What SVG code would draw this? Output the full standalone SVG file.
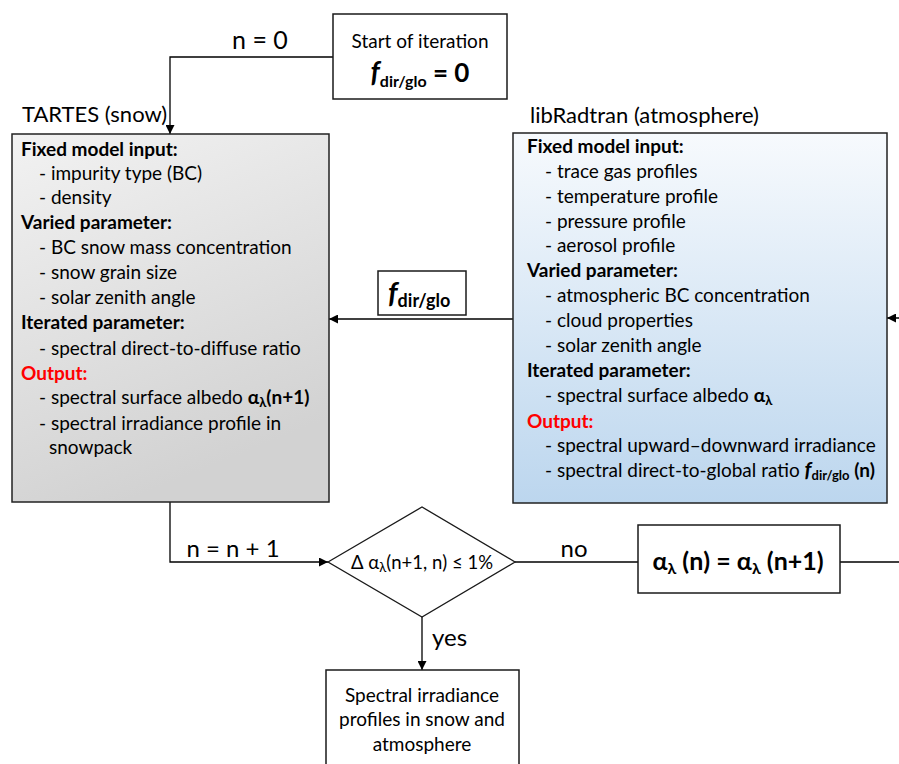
<svg xmlns="http://www.w3.org/2000/svg" width="899" height="764" viewBox="0 0 899 764">
<style>
text{font-family:Lato,"Liberation Sans",sans-serif;fill:#000}
.t{font-size:19px}
.h{font-size:19px;font-weight:bold}
.red{fill:#ff0000}
.lbl{font-size:24px}
.box{stroke:#1a1a1a;stroke-width:1.5;fill:#fff}
.ln{stroke:#000;stroke-width:1.3;fill:none}
.b{font-weight:bold}
</style>
<defs>
<linearGradient id="gGray" x1="0" y1="0" x2="0.35" y2="1">
<stop offset="0" stop-color="#f2f2f2"/>
<stop offset="1" stop-color="#d2d2d2"/>
</linearGradient>
<linearGradient id="gBlue" x1="0" y1="0" x2="0" y2="1">
<stop offset="0" stop-color="#f7fafd"/>
<stop offset="1" stop-color="#bcd6ee"/>
</linearGradient>
<marker id="ar" viewBox="0 0 10 10" refX="10" refY="5" markerWidth="9" markerHeight="9" markerUnits="userSpaceOnUse" orient="auto">
<path d="M0,0 L10,5 L0,10 z" fill="#000"/>
</marker>
</defs>

<g id="connectors">
<path class="ln" d="M333,57 H170 V134" marker-end="url(#ar)"/>
<path class="ln" d="M513,319 H329" marker-end="url(#ar)"/>
<path class="ln" d="M170,502 V562 H328" marker-end="url(#ar)"/>
<path class="ln" d="M515,562 H638"/>
<path class="ln" d="M840,562 H910 V318 H887" marker-end="url(#ar)"/>
<path class="ln" d="M422,617 V670" marker-end="url(#ar)"/>
<text x="260" y="49" text-anchor="middle" font-size="25">n = 0</text>
<text class="lbl" x="233" y="557" text-anchor="middle">n = n + 1</text>
<text class="lbl" x="574" y="557" text-anchor="middle">no</text>
<text class="lbl" x="432" y="646">yes</text>
</g>

<g id="start">
<rect class="box" x="333" y="14" width="174" height="85"/>
<text class="t" x="420" y="48" text-anchor="middle">Start of iteration</text>
<text x="420" y="82" text-anchor="middle" font-weight="bold" font-size="26"><tspan font-style="italic" font-size="28">f</tspan><tspan font-size="16" dy="5">dir/glo</tspan><tspan dy="-5"> = 0</tspan></text>
</g>

<g id="tartes">
<text x="22" y="122" font-size="22">TARTES (snow)</text>
<rect x="12" y="134" width="317" height="368" fill="url(#gGray)" stroke="#222" stroke-width="1.5"/>
<text class="h" x="21" y="156">Fixed model input:</text>
<text class="t" x="39" y="180">- impurity type (BC)</text>
<text class="t" x="39" y="204">- density</text>
<text class="h" x="21" y="229">Varied parameter:</text>
<text class="t" x="39" y="254">- BC snow mass concentration</text>
<text class="t" x="39" y="279">- snow grain size</text>
<text class="t" x="39" y="304">- solar zenith angle</text>
<text class="h" x="21" y="329">Iterated parameter:</text>
<text class="t" x="39" y="355">- spectral direct-to-diffuse ratio</text>
<text class="h red" x="21" y="380">Output:</text>
<text class="t" x="39" y="404">- spectral surface albedo <tspan class="b">α</tspan><tspan class="b" font-size="13" dy="3">λ</tspan><tspan class="b" dy="-3">(n+1)</tspan></text>
<text class="t" x="39" y="430">- spectral irradiance profile in</text>
<text class="t" x="49" y="454">snowpack</text>
</g>

<g id="libradtran">
<text x="530" y="123" font-size="22">libRadtran (atmosphere)</text>
<rect x="513" y="133" width="374" height="370" fill="url(#gBlue)" stroke="#222" stroke-width="1.5"/>
<text class="h" x="527" y="153">Fixed model input:</text>
<text class="t" x="545" y="178">- trace gas profiles</text>
<text class="t" x="545" y="203">- temperature profile</text>
<text class="t" x="545" y="228">- pressure profile</text>
<text class="t" x="545" y="252">- aerosol profile</text>
<text class="h" x="527" y="277">Varied parameter:</text>
<text class="t" x="545" y="302">- atmospheric BC concentration</text>
<text class="t" x="545" y="327">- cloud properties</text>
<text class="t" x="545" y="352">- solar zenith angle</text>
<text class="h" x="527" y="377">Iterated parameter:</text>
<text class="t" x="545" y="402">- spectral surface albedo <tspan class="b">α</tspan><tspan class="b" font-size="13" dy="3">λ</tspan></text>
<text class="h red" x="527" y="428">Output:</text>
<text class="t" x="545" y="452">- spectral upward–downward irradiance</text>
<text class="t" x="545" y="477">- spectral direct-to-global ratio <tspan class="b" font-style="italic" font-size="21">f</tspan><tspan class="b" font-size="13" dy="3">dir/glo</tspan><tspan class="b" dy="-3"> (n)</tspan></text>
</g>

<g id="fdirglo">
<rect class="box" x="378" y="271" width="88" height="44"/>
<text x="388" y="303" font-weight="bold"><tspan font-style="italic" font-size="29">f</tspan><tspan font-size="18" dy="4">dir/glo</tspan></text>
</g>

<g id="decision">
<polygon points="328,562 422,507 515,562 422,617" fill="#fff" stroke="#1a1a1a" stroke-width="1.3"/>
<text x="422" y="569" text-anchor="middle" font-size="18.5">Δ α<tspan font-size="13" dy="3">λ</tspan><tspan dy="-3">(n+1, n) ≤ 1%</tspan></text>
</g>

<g id="update">
<rect class="box" x="638" y="525" width="202" height="68"/>
<text x="738" y="570" text-anchor="middle" font-weight="bold" font-size="25">α<tspan font-size="16" dy="4">λ</tspan><tspan dy="-4"> (n) = α</tspan><tspan font-size="16" dy="4">λ</tspan><tspan dy="-4"> (n+1)</tspan></text>
</g>

<g id="result">
<rect class="box" x="326" y="670" width="193" height="110"/>
<text class="t" x="422" y="702" text-anchor="middle">Spectral irradiance</text>
<text class="t" x="422" y="726" text-anchor="middle">profiles in snow and</text>
<text class="t" x="422" y="751" text-anchor="middle">atmosphere</text>
</g>
</svg>
